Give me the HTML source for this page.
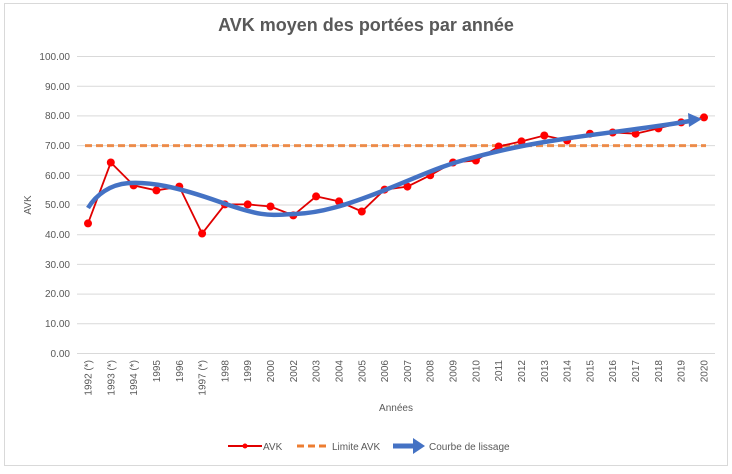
<!DOCTYPE html>
<html><head><meta charset="utf-8"><style>
html,body{margin:0;padding:0;background:#fff}
svg text{font-family:"Liberation Sans",sans-serif}
</style></head><body>
<svg width="732" height="469" viewBox="0 0 732 469" xmlns="http://www.w3.org/2000/svg">
<rect x="0" y="0" width="732" height="469" fill="#fff"/>
<rect x="4.5" y="3.5" width="723" height="462" fill="none" stroke="#d9d9d9"/>
<text x="366" y="31" text-anchor="middle" font-size="18" font-weight="bold" fill="#595959">AVK moyen des portées par année</text>
<g stroke="#d9d9d9" stroke-width="1">
<line x1="77" x2="715" y1="56.5" y2="56.5"/><line x1="77" x2="715" y1="86.2" y2="86.2"/><line x1="77" x2="715" y1="115.9" y2="115.9"/><line x1="77" x2="715" y1="145.6" y2="145.6"/><line x1="77" x2="715" y1="175.3" y2="175.3"/><line x1="77" x2="715" y1="205" y2="205"/><line x1="77" x2="715" y1="234.7" y2="234.7"/><line x1="77" x2="715" y1="264.4" y2="264.4"/><line x1="77" x2="715" y1="294.1" y2="294.1"/><line x1="77" x2="715" y1="323.8" y2="323.8"/><line x1="77" x2="715" y1="353.5" y2="353.5"/>
</g>
<g font-size="10" fill="#595959" text-anchor="end">
<text x="70" y="60">100.00</text><text x="70" y="90">90.00</text><text x="70" y="119">80.00</text><text x="70" y="149">70.00</text><text x="70" y="179">60.00</text><text x="70" y="208">50.00</text><text x="70" y="238">40.00</text><text x="70" y="268">30.00</text><text x="70" y="297">20.00</text><text x="70" y="327">10.00</text><text x="70" y="357">0.00</text>
</g>
<text transform="translate(31,205) rotate(-90)" text-anchor="middle" font-size="10" fill="#595959">AVK</text>
<text x="396" y="411" text-anchor="middle" font-size="10" fill="#595959">Années</text>
<g font-size="10" fill="#595959" text-anchor="end">
<text transform="translate(91.5,360) rotate(-90)">1992 (*)</text>
<text transform="translate(114.3,360) rotate(-90)">1993 (*)</text>
<text transform="translate(137.1,360) rotate(-90)">1994 (*)</text>
<text transform="translate(159.9,360) rotate(-90)">1995</text>
<text transform="translate(182.8,360) rotate(-90)">1996</text>
<text transform="translate(205.6,360) rotate(-90)">1997 (*)</text>
<text transform="translate(228.4,360) rotate(-90)">1998</text>
<text transform="translate(251.2,360) rotate(-90)">1999</text>
<text transform="translate(274,360) rotate(-90)">2000</text>
<text transform="translate(296.8,360) rotate(-90)">2002</text>
<text transform="translate(319.6,360) rotate(-90)">2003</text>
<text transform="translate(342.5,360) rotate(-90)">2004</text>
<text transform="translate(365.3,360) rotate(-90)">2005</text>
<text transform="translate(388.1,360) rotate(-90)">2006</text>
<text transform="translate(410.9,360) rotate(-90)">2007</text>
<text transform="translate(433.7,360) rotate(-90)">2008</text>
<text transform="translate(456.5,360) rotate(-90)">2009</text>
<text transform="translate(479.4,360) rotate(-90)">2010</text>
<text transform="translate(502.2,360) rotate(-90)">2011</text>
<text transform="translate(525,360) rotate(-90)">2012</text>
<text transform="translate(547.8,360) rotate(-90)">2013</text>
<text transform="translate(570.6,360) rotate(-90)">2014</text>
<text transform="translate(593.4,360) rotate(-90)">2015</text>
<text transform="translate(616.2,360) rotate(-90)">2016</text>
<text transform="translate(639.1,360) rotate(-90)">2017</text>
<text transform="translate(661.9,360) rotate(-90)">2018</text>
<text transform="translate(684.7,360) rotate(-90)">2019</text>
<text transform="translate(707.5,360) rotate(-90)">2020</text>
</g>
<line x1="85" x2="706" y1="145.6" y2="145.6" stroke="#ed7d31" stroke-width="3" stroke-dasharray="7,4" opacity="0.85"/>
<polyline fill="none" stroke="#e00000" stroke-width="1.8" points="88,223.4 110.8,162.5 133.6,185.4 156.4,190.4 179.3,186.6 202.1,233.5 224.9,204.4 247.7,204.4 270.5,206.5 293.3,215.4 316.1,196.4 339,201.4 361.8,211.5 384.6,189.6 407.4,186.6 430.2,175.3 453,162.5 475.9,160.5 498.7,146.5 521.5,141.4 544.3,135.5 567.1,140.5 589.9,133.7 612.7,132.5 635.6,133.7 658.4,128.4 681.2,122.4 704,117.4"/>
<g fill="#ff0000">
<circle cx="88" cy="223.4" r="4"/><circle cx="110.8" cy="162.5" r="4"/><circle cx="133.6" cy="185.4" r="4"/><circle cx="156.4" cy="190.4" r="4"/><circle cx="179.3" cy="186.6" r="4"/><circle cx="202.1" cy="233.5" r="4"/><circle cx="224.9" cy="204.4" r="4"/><circle cx="247.7" cy="204.4" r="4"/><circle cx="270.5" cy="206.5" r="4"/><circle cx="293.3" cy="215.4" r="4"/><circle cx="316.1" cy="196.4" r="4"/><circle cx="339" cy="201.4" r="4"/><circle cx="361.8" cy="211.5" r="4"/><circle cx="384.6" cy="189.6" r="4"/><circle cx="407.4" cy="186.6" r="4"/><circle cx="430.2" cy="175.3" r="4"/><circle cx="453" cy="162.5" r="4"/><circle cx="475.9" cy="160.5" r="4"/><circle cx="498.7" cy="146.5" r="4"/><circle cx="521.5" cy="141.4" r="4"/><circle cx="544.3" cy="135.5" r="4"/><circle cx="567.1" cy="140.5" r="4"/><circle cx="589.9" cy="133.7" r="4"/><circle cx="612.7" cy="132.5" r="4"/><circle cx="635.6" cy="133.7" r="4"/><circle cx="658.4" cy="128.4" r="4"/><circle cx="681.2" cy="122.4" r="4"/><circle cx="704" cy="117.4" r="4"/>
</g>
<path d="M88,208 C96,195 110,184 130,183 S175,186 220,202 S270,215 295,214 S345,206 385,190 S440,166 475,157 S530,144 570,138 S650,128 690,121" fill="none" stroke="#4472c4" stroke-width="4.5"/>
<polygon points="688,113 702,119 689,127" fill="#4472c4"/>
<line x1="228" x2="262" y1="446" y2="446" stroke="#e00000" stroke-width="2"/>
<circle cx="245" cy="446" r="2.5" fill="#ff0000"/>
<text x="263" y="450" font-size="10" fill="#595959">AVK</text>
<line x1="297" x2="329" y1="446" y2="446" stroke="#ed7d31" stroke-width="3" stroke-dasharray="7,4"/>
<text x="332" y="450" font-size="10" fill="#595959">Limite AVK</text>
<line x1="393" x2="414" y1="446" y2="446" stroke="#4472c4" stroke-width="5"/>
<polygon points="413,438 425,446 413,454" fill="#4472c4"/>
<text x="429" y="450" font-size="10" fill="#595959">Courbe de lissage</text>
</svg>
</body></html>
